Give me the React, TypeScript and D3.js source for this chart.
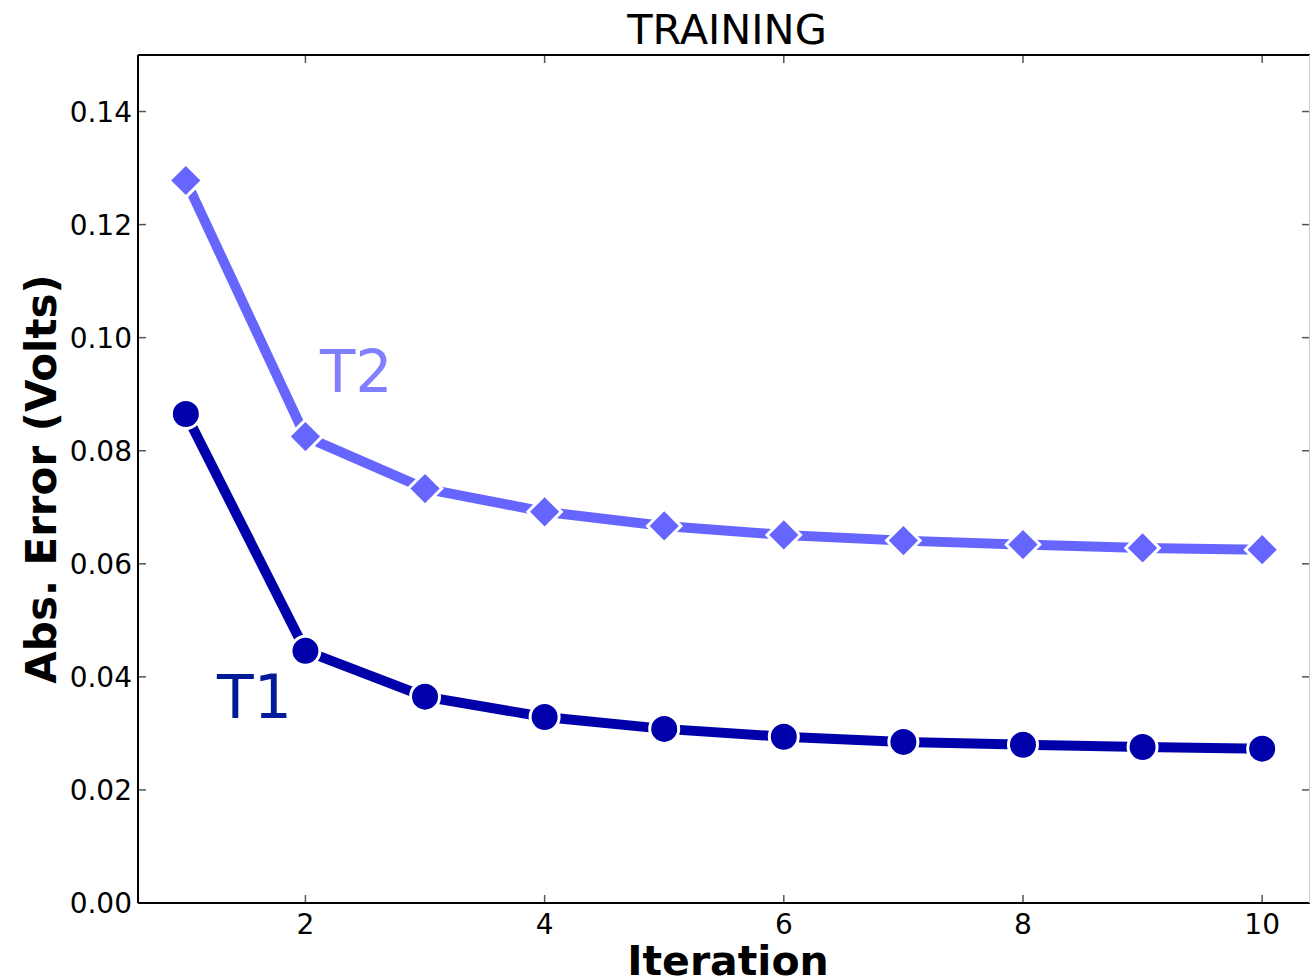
import React from "react";
import * as d3 from "d3";

const iterations = [1, 2, 3, 4, 5, 6, 7, 8, 9, 10];
const t1Values = [0.0865, 0.0446, 0.0365, 0.0329, 0.0308, 0.0294, 0.0285, 0.028, 0.0276, 0.0273];
const t2Values = [0.1278, 0.0825, 0.0733, 0.0692, 0.0667, 0.0651, 0.0641, 0.0634, 0.0628, 0.0625];
const xTicks = [2, 4, 6, 8, 10];
const yTicks = [0, 0.02, 0.04, 0.06, 0.08, 0.1, 0.12, 0.14];

const W = 1310;
const H = 979;
const margin = { top: 55, right: 0, bottom: 76, left: 138 };

const FONT = "'DejaVu Sans', sans-serif";

export default function App() {
  const x = d3
    .scaleLinear()
    .domain([0.6, 10.4])
    .range([margin.left, W - margin.right]);
  const y = d3
    .scaleLinear()
    .domain([0, 0.15])
    .range([H - margin.bottom, margin.top]);

  const line = d3
    .line<number>()
    .x((d, i) => x(iterations[i]))
    .y((d) => y(d));

  // diamond = rotated square
  const diamond = d3.symbol(d3.symbolSquare, 560)();

  const x0 = x.range()[0];
  const x1 = x.range()[1];
  const y0 = y.range()[0];
  const y1 = y.range()[1];
  const tickLen = 8;
  const tickColor = "#555";

  return (
    <svg
      width={W}
      height={H}
      style={{ position: "absolute", left: 0, top: 0, background: "#fff" }}
    >
      <rect x={0} y={0} width={W} height={H} fill="#fff" />

      {/* lines */}
      <path d={line(t2Values) || ""} fill="none" stroke="#6666ff" strokeWidth={10} />
      <path d={line(t1Values) || ""} fill="none" stroke="#0000aa" strokeWidth={10} />

      {/* markers */}
      {t2Values.map((v, i) => (
        <path
          key={"d" + i}
          d={diamond}
          transform={`translate(${x(iterations[i])},${y(v)}) rotate(45)`}
          fill="#6666ff"
          stroke="#fff"
          strokeWidth={3}
        />
      ))}
      {t1Values.map((v, i) => (
        <circle
          key={"c" + i}
          cx={x(iterations[i])}
          cy={y(v)}
          r={14.5}
          fill="#0000aa"
          stroke="#fff"
          strokeWidth={3}
        />
      ))}

      {/* series labels */}
      <text x={320} y={392} fontFamily={FONT} fontSize={58} fill="#7f7fff">
        T2
      </text>
      <text x={217} y={718} fontFamily={FONT} fontSize={60} fill="#001a99">
        T1
      </text>

      {/* ticks */}
      {xTicks.map((t) => (
        <g key={"xt" + t}>
          <line x1={x(t)} x2={x(t)} y1={y0} y2={y0 - tickLen} stroke={tickColor} strokeWidth={1.5} />
          <line x1={x(t)} x2={x(t)} y1={y1} y2={y1 + tickLen} stroke={tickColor} strokeWidth={1.5} />
          <text
            x={x(t)}
            y={y0 + 31}
            textAnchor="middle"
            fontFamily={FONT}
            fontSize={28}
            fill="#000"
          >
            {t}
          </text>
        </g>
      ))}
      {yTicks.map((t) => (
        <g key={"yt" + t}>
          <line x1={x0} x2={x0 + tickLen} y1={y(t)} y2={y(t)} stroke={tickColor} strokeWidth={1.5} />
          <line x1={x1} x2={x1 - tickLen} y1={y(t)} y2={y(t)} stroke={tickColor} strokeWidth={1.5} />
          <text
            x={x0 - 6}
            y={y(t) + 10}
            textAnchor="end"
            fontFamily={FONT}
            fontSize={28}
            fill="#000"
          >
            {d3.format(".2f")(t)}
          </text>
        </g>
      ))}

      {/* spines */}
      <line x1={x0} x2={x1} y1={y1} y2={y1} stroke="#000" strokeWidth={2} />
      <line x1={x0} x2={x1} y1={y0} y2={y0} stroke="#000" strokeWidth={2} />
      <line x1={x0} x2={x0} y1={y1} y2={y0} stroke="#000" strokeWidth={2} />
      <line x1={x1 - 0.5} x2={x1 - 0.5} y1={y1} y2={y0} stroke="#ccc" strokeWidth={1} />

      {/* titles */}
      <text x={727} y={44} textAnchor="middle" fontFamily={FONT} fontSize={41.5} fill="#000">
        TRAINING
      </text>
      <text
        x={728}
        y={975}
        textAnchor="middle"
        fontFamily={FONT}
        fontWeight="bold"
        fontSize={41}
        fill="#000"
      >
        Iteration
      </text>
      <text
        transform={`translate(56,${(y0 + y1) / 2}) rotate(-90)`}
        textAnchor="middle"
        fontFamily={FONT}
        fontWeight="bold"
        fontSize={42}
        fill="#000"
      >
        Abs. Error (Volts)
      </text>
    </svg>
  );
}
